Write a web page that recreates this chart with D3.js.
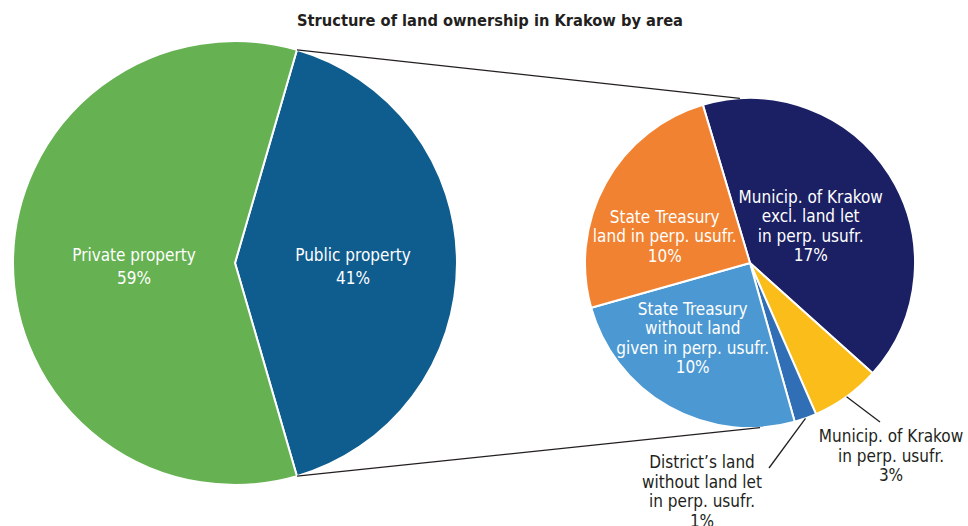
<!DOCTYPE html>
<html>
<head>
<meta charset="utf-8">
<script src="https://cdn.jsdelivr.net/npm/d3@7"></script>
<style>
  html, body { margin: 0; padding: 0; background: #fff; }
  svg { display: block; }
  text { font-family: "Liberation Sans Narrow", "Arial Narrow", "DejaVu Sans Condensed", sans-serif; }
</style>
</head>
<body>
<svg id="chart" width="968" height="526"></svg>
<script>
// ---------- data ----------
const title = "Structure of land ownership in Krakow by area";

const mainCategories = ["Public property", "Private property"];
const mainValues = [41, 59];
const mainLabels = ["41%", "59%"];

const subCategories = [
  ["Municip. of Krakow", "excl. land let", "in perp. usufr."],
  ["Municip. of Krakow", "in perp. usufr."],
  ["District\u2019s land", "without land let", "in perp. usufr."],
  ["State Treasury", "without land", "given in perp. usufr."],
  ["State Treasury", "land in perp. usufr."]
];
const subValues = [17.0, 2.8, 0.9, 10.3, 10.2];
const subLabels = ["17%", "3%", "1%", "10%", "10%"];

// ---------- styling / layout ----------
const W = 968, H = 526;
const mainColors = ["#0f5c8e", "#66b152"];
const subColors = ["#1b1f63", "#fbbd19", "#306eb6", "#4b98d2", "#f08232"];
const big = { cx: 235, cy: 263, r: 222 };
const small = { cx: 750, cy: 263, r: 165 };
const deg = Math.PI / 180;

const svg = d3.select("#chart");

svg.append("text")
  .attr("x", 490).attr("y", 26)
  .attr("text-anchor", "middle")
  .attr("font-weight", "bold")
  .attr("font-size", 16.3)
  .attr("fill", "#231f20")
  .text(title);

// ---------- big pie ----------
const pubShare = mainValues[0] / d3.sum(mainValues);
const bigStart = Math.PI / 2 - pubShare * Math.PI;
const bigPie = d3.pie().sort(null).value(d => d)
  .startAngle(bigStart).endAngle(bigStart + 2 * Math.PI);
const bigArcs = bigPie(mainValues);
const bigArc = d3.arc().innerRadius(0).outerRadius(big.r);

const gBig = svg.append("g").attr("transform", `translate(${big.cx},${big.cy})`);
gBig.selectAll("path").data(bigArcs).join("path")
  .attr("d", bigArc)
  .attr("fill", (d, i) => mainColors[i])
  .attr("stroke", "#fff").attr("stroke-width", 2).attr("stroke-linejoin", "round");

const bigLabelOffsets = [[7, 3], [10, 3]];
bigArcs.forEach((d, i) => {
  const c = bigArc.centroid(d);
  const t = gBig.append("text")
    .attr("text-anchor", "middle")
    .attr("font-size", 17)
    .attr("fill", "#fff")
    .attr("transform", `translate(${c[0] + bigLabelOffsets[i][0]},${c[1] + bigLabelOffsets[i][1]})`);
  t.append("tspan").attr("x", 0).attr("y", -5).text(mainCategories[i]);
  t.append("tspan").attr("x", 0).attr("y", 18).text(mainLabels[i]);
});

// ---------- small pie ----------
const subStart = -16.6 * deg;
const subPie = d3.pie().sort(null).value(d => d)
  .startAngle(subStart).endAngle(subStart + 2 * Math.PI);
const subArcs = subPie(subValues);
const subArc = d3.arc().innerRadius(0).outerRadius(small.r);

const gSmall = svg.append("g").attr("transform", `translate(${small.cx},${small.cy})`);
gSmall.selectAll("path").data(subArcs).join("path")
  .attr("d", subArc)
  .attr("fill", (d, i) => subColors[i])
  .attr("stroke", "#fff").attr("stroke-width", 2).attr("stroke-linejoin", "round");

// ---------- connector lines ----------
const pt = (c, r, a) => [c.cx + r * Math.sin(a), c.cy - r * Math.cos(a)];
const pubArc = bigArcs[0];
const conn = [
  [pt(big, big.r, pubArc.startAngle), pt(small, small.r, -3.5 * deg)],
  [pt(big, big.r, pubArc.endAngle), pt(small, small.r, 176.5 * deg)]
];
svg.selectAll("line.conn").data(conn).join("line")
  .attr("class", "conn")
  .attr("x1", d => d[0][0]).attr("y1", d => d[0][1])
  .attr("x2", d => d[1][0]).attr("y2", d => d[1][1])
  .attr("stroke", "#231f20").attr("stroke-width", 1.3);

// ---------- small pie labels ----------
const lineH = 19.5;
const inside = { 0: [-9, 7], 3: [-17, 3], 4: [-13, 13] };
const outside = {
  1: { end: [130, 159], text: [141, 179] },
  2: { end: [19, 205], text: [-48, 205] }
};
const fs = 17;

subArcs.forEach((d, i) => {
  const lines = subCategories[i].concat([subLabels[i]]);
  if (inside[i]) {
    const c = subArc.centroid(d);
    const n = lines.length;
    const t = gSmall.append("text")
      .attr("text-anchor", "middle")
      .attr("font-size", fs)
      .attr("fill", "#fff")
      .attr("transform", `translate(${c[0] + inside[i][0]},${c[1] + inside[i][1]})`);
    lines.forEach((s, k) => {
      t.append("tspan").attr("x", 0).attr("y", (k - (n - 1) / 2) * lineH + 6).text(s);
    });
  } else {
    const o = outside[i];
    const mid = (d.startAngle + d.endAngle) / 2;
    const e = [small.r * Math.sin(mid), -small.r * Math.cos(mid)];
    gSmall.append("line")
      .attr("x1", e[0]).attr("y1", e[1])
      .attr("x2", o.end[0]).attr("y2", o.end[1])
      .attr("stroke", "#231f20").attr("stroke-width", 1.3);
    const t = gSmall.append("text")
      .attr("text-anchor", "middle")
      .attr("font-size", fs)
      .attr("fill", "#231f20")
      .attr("transform", `translate(${o.text[0]},${o.text[1]})`);
    lines.forEach((s, k) => {
      t.append("tspan").attr("x", 0).attr("y", k * lineH).text(s);
    });
  }
});
</script>
</body>
</html>
